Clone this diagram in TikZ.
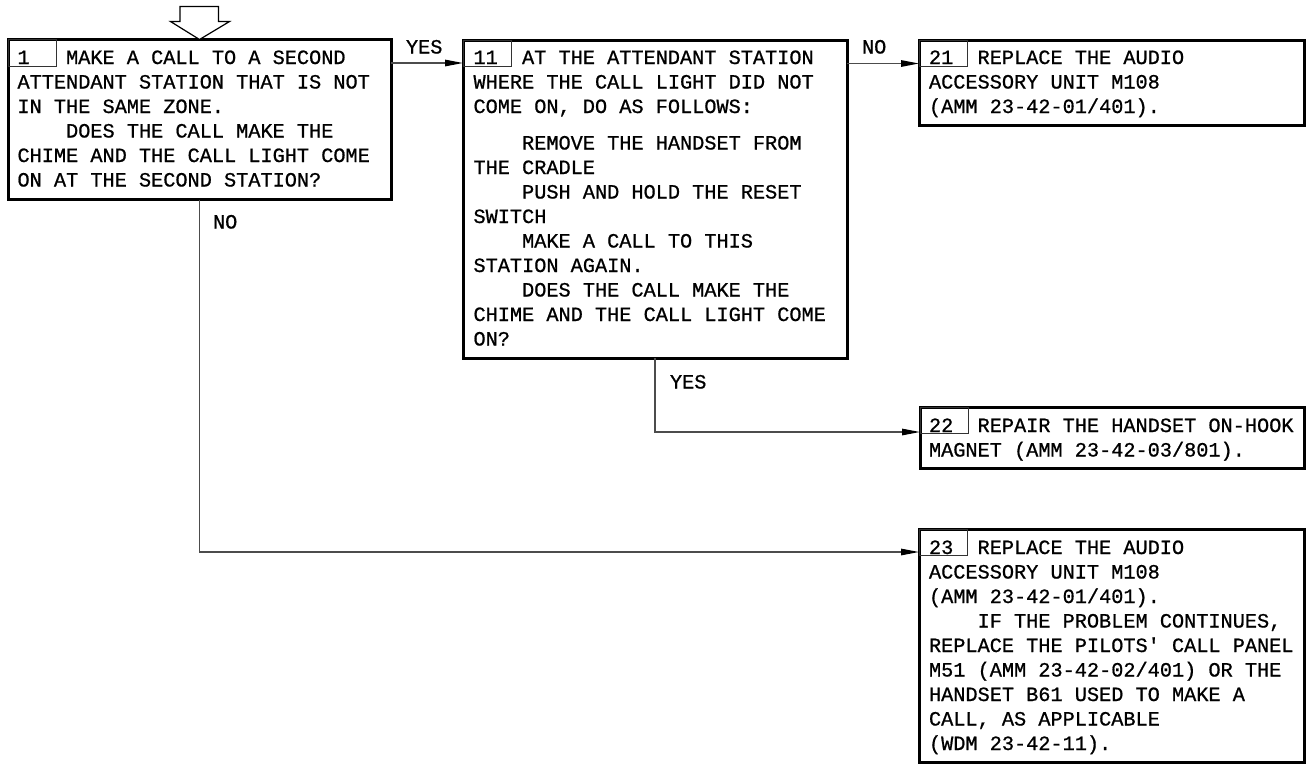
\documentclass[tikz,border=0pt]{standalone}
\usepackage{fontspec}
\setmonofont[FakeBold=0.8]{Liberation Mono}
\usetikzlibrary{arrows.meta}
\newlength{\cw}\setlength{\cw}{12.15pt}
\newcommand{\ind}{\hspace*{4\cw}}
\newcommand{\num}[1]{\makebox[4\cw][l]{#1}}
\newcommand{\lines}[1]{\parbox[t]{420pt}{\raggedright #1}}
\tikzset{
  box/.style={draw=black, line width=3pt, inner sep=0pt, outer sep=0pt, anchor=north west},
  numbox/.style={draw=black!80, line width=1pt, inner sep=0pt, outer sep=0pt, anchor=north west, minimum width=48.5pt, minimum height=26.5pt},
  txt/.style={inner sep=0pt, outer sep=0pt, anchor=base west, font=\ttfamily\fontsize{20.25pt}{24.5pt}\selectfont},
  conn/.style={draw=black!70, line width=1.3pt},
  arr/.style={conn, -{Triangle[length=18pt,width=6.5pt,color=black]}},
}
\begin{document}
\begin{tikzpicture}[x=1pt,y=-1pt]
\useasboundingbox (0,0) rectangle (1310,764);
% boxes
\node[box, minimum width=383pt, minimum height=160pt] (b1) at (8,39.5) {};
\node[box, minimum width=384pt, minimum height=318pt] (b11) at (463,40) {};
\node[box, minimum width=385pt, minimum height=85pt] (b21) at (919,40) {};
\node[box, minimum width=384pt, minimum height=61.5pt] (b22) at (920,407) {};
\node[box, minimum width=385pt, minimum height=233pt] (b23) at (919,529) {};
% number boxes
\node[numbox] (n1) at (b1.north west) {};
\node[numbox] (n11) at (b11.north west) {};
\node[numbox] (n21) at (b21.north west) {};
\node[numbox] (n22) at (b22.north west) {};
\node[numbox] (n23) at (b23.north west) {};
% texts
\node[txt] (t1) at (17.5,64) {\lines{\num{1}MAKE A CALL TO A SECOND\\
ATTENDANT STATION THAT IS NOT\\
IN THE SAME ZONE.\\
\ind DOES THE CALL MAKE THE\\
CHIME AND THE CALL LIGHT COME\\
ON AT THE SECOND STATION?}};
\node[txt] (t11) at (473.5,64) {\lines{\num{11}AT THE ATTENDANT STATION\\
WHERE THE CALL LIGHT DID NOT\\
COME ON, DO AS FOLLOWS:\\[12pt]
\ind REMOVE THE HANDSET FROM\\
THE CRADLE\\
\ind PUSH AND HOLD THE RESET\\
SWITCH\\
\ind MAKE A CALL TO THIS\\
STATION AGAIN.\\
\ind DOES THE CALL MAKE THE\\
CHIME AND THE CALL LIGHT COME\\
ON?}};
\node[txt] (t21) at (929,64) {\lines{\num{21}REPLACE THE AUDIO\\
ACCESSORY UNIT M108\\
(AMM 23-42-01/401).}};
\node[txt] (t22) at (929,432) {\lines{\num{22}REPAIR THE HANDSET ON-HOOK\\
MAGNET (AMM 23-42-03/801).}};
\node[txt] (t23) at (929,554) {\lines{\num{23}REPLACE THE AUDIO\\
ACCESSORY UNIT M108\\
(AMM 23-42-01/401).\\
\ind IF THE PROBLEM CONTINUES,\\
REPLACE THE PILOTS' CALL PANEL\\
M51 (AMM 23-42-02/401) OR THE\\
HANDSET B61 USED TO MAKE A\\
CALL, AS APPLICABLE\\
(WDM 23-42-11).}};
% entry arrow
\draw[line width=1.2pt, fill=white] (180,6.5) -- (218.5,6.5) -- (218.5,21.5) -- (229.5,21.5)
  -- (b1.north) -- (170.5,21.5) -- (180,21.5) -- cycle;
% connectors
\coordinate (o1) at ([yshift=-23.5pt]b1.north east);
\coordinate (o11) at ([yshift=-23.5pt]b11.north east);
\coordinate (i22) at ([yshift=-25pt]b22.north west);
\coordinate (i23) at ([yshift=-23pt]b23.north west);
\draw[arr] (o1) -- (o1 -| b11.west);
\draw[arr] (o11) -- (o11 -| b21.west);
\draw[arr] (b11.south) |- (i22);
\draw[arr] (b1.south) |- (i23);
% labels
\node[txt] (lyes1) at (406,53.5) {YES};
\node[txt] (lno11) at (862,53.5) {NO};
\node[txt] (lno1) at (213,228.5) {NO};
\node[txt] (lyes11) at (670,388.5) {YES};
\end{tikzpicture}
\end{document}
